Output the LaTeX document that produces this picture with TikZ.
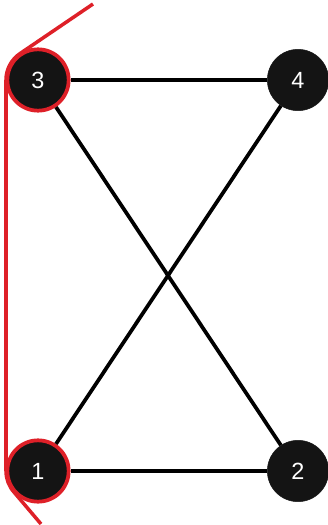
\documentclass[tikz,border=0pt]{standalone}
\usepackage{fontspec}
\setmainfont{Liberation Sans}
\usepackage{tikz}
\usetikzlibrary{positioning}
\definecolor{rojo}{RGB}{222,32,40}

\begin{document}
\begin{tikzpicture}[x=0.03cm, y=0.03cm,
  vertice/.style={circle, fill=black!92, draw=black!92, minimum size=1.84cm, inner sep=0pt,
    text=white, font=\fontsize{20}{24}\selectfont},
  marcado/.style={vertice, draw=rojo, line width=3.2pt},
  arista/.style={line width=3.2pt, black}]
\useasboundingbox (0,0) rectangle (327,-525);
% Grafo
\node[marcado] (v3) at (38,-80) {3};
\node[vertice] (v4) at (298,-80) {4};
\node[marcado] (v1) at (38,-471) {1};
\node[vertice] (v2) at (298,-471) {2};
\draw[arista] (v3) -- (v4);
\draw[arista] (v1) -- (v2);
\draw[arista] (v3) -- (v2);
\draw[arista] (v1) -- (v4);
% Corte
\draw[rojo, line width=3pt] (93,-4) -- (20.1,-53.5)
  arc[start angle=124, end angle=180, radius=32] -- (6,-471)
  arc[start angle=180, end angle=222, radius=32] -- (41,-524);
\end{tikzpicture}
\end{document}
